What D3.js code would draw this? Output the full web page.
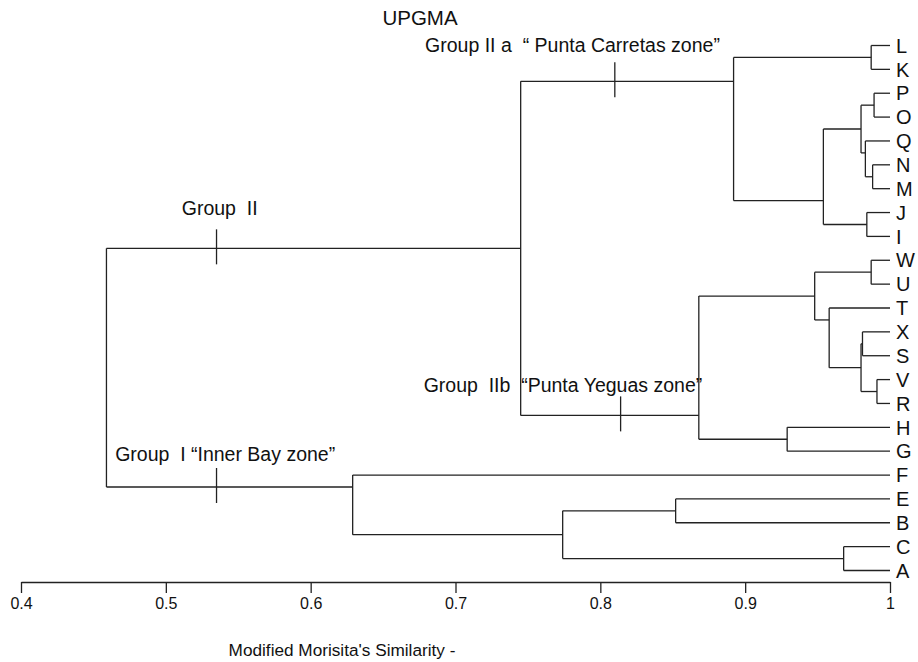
<!DOCTYPE html>
<html>
<head>
<meta charset="utf-8">
<script src="https://cdn.jsdelivr.net/npm/d3@7"></script>
<style>
  body { margin: 0; background: #fff; }
  text { font-family: "Liberation Sans", Arial, Helvetica, sans-serif; fill: #111; }
</style>
</head>
<body>
<div id="chart"></div>
<script>
// leaf order top to bottom
const leaves = ["L","K","P","O","Q","N","M","J","I","W","U","T","X","S","V","R","H","G","F","E","B","C","A"]

// merges: [node, child a, child b, similarity]
const merges = [
  ["n1", "L", "K", 0.987],
  ["n2", "P", "O", 0.989],
  ["n3", "N", "M", 0.988],
  ["n4", "Q", "n3", 0.983],
  ["n5", "n2", "n4", 0.980],
  ["n6", "J", "I", 0.984],
  ["n7", "n5", "n6", 0.954],
  ["gIIa", "n1", "n7", 0.892],
  ["n8", "W", "U", 0.987],
  ["n9", "X", "S", 0.981],
  ["n10", "V", "R", 0.991],
  ["n11", "n9", "n10", 0.980],
  ["n12", "T", "n11", 0.958],
  ["n13", "n8", "n12", 0.948],
  ["n14", "H", "G", 0.929],
  ["gIIb", "n13", "n14", 0.868],
  ["gII", "gIIa", "gIIb", 0.745],
  ["n15", "E", "B", 0.852],
  ["n16", "C", "A", 0.968],
  ["n17", "n15", "n16", 0.774],
  ["gI", "F", "n17", 0.629],
  ["root", "gII", "gI", 0.459]
]

const tickValues = [0.4, 0.5, 0.6, 0.7, 0.8, 0.9, 1]

// group annotations
const groupNodes = ["gIIa", "gII", "gIIb", "gI"]
const groupLabels = ["Group II a  \u201c Punta Carretas zone\u201d", "Group  II", "Group  IIb  \u201cPunta Yeguas zone\u201d", "Group  I \u201cInner Bay zone\u201d"]
const groupMarks = [0.810, 0.535, 0.814, 0.535]
const groupLabelStart = [0.679, 0.511, 0.678, 0.465]
const groupLabelRaise = [29, 33, 23, 26]

const width = 918, height = 662

const svg = d3.select("#chart")
              .append("svg")
              .attr("width", width)
              .attr("height", height)

const x = d3.scaleLinear().domain([0.4, 1]).range([21, 890])
const y = d3.scaleLinear().domain([0, leaves.length - 1]).range([45.5, 570.5])

// node info: leaf range, row position, similarity
const nodes = {}
leaves.forEach((l, i) => nodes[l] = {first: i, last: i, row: i, sim: 1})
merges.forEach(([id, a, b, sim]) => {
  const na = nodes[a], nb = nodes[b]
  nodes[id] = {first: na.first, last: nb.last, row: (na.last + nb.first) / 2, sim: sim}
})

const lines = svg.append("g")
                 .attr("fill", "none")
                 .attr("stroke", "#222")
                 .attr("stroke-width", 1.3)

merges.forEach(([id, a, b, sim]) => {
  lines.append("line")
       .attr("x1", x(sim)).attr("x2", x(sim))
       .attr("y1", y(nodes[a].row)).attr("y2", y(nodes[b].row))
  ;[a, b].forEach(c => {
    lines.append("line")
         .attr("x1", x(sim)).attr("x2", x(nodes[c].sim))
         .attr("y1", y(nodes[c].row)).attr("y2", y(nodes[c].row))
  })
})

// leaf labels
svg.append("g")
   .selectAll("text")
   .data(leaves)
   .enter()
   .append("text")
   .attr("x", x(1) + 6)
   .attr("y", (d, i) => y(i))
   .attr("dy", "0.36em")
   .attr("font-size", 20)
   .text(d => d)

// group marks and labels
groupNodes.forEach((g, i) => {
  const yy = y(nodes[g].row)
  lines.append("line")
       .attr("x1", x(groupMarks[i])).attr("x2", x(groupMarks[i]))
       .attr("y1", yy - 19).attr("y2", yy + 16)
  svg.append("text")
     .attr("x", x(groupLabelStart[i]))
     .attr("y", yy - groupLabelRaise[i])
     .attr("font-size", 19.5)
     .style("white-space", "pre")
     .text(groupLabels[i])
})

// axis
const axis = svg.append("g")
                .attr("transform", "translate(0,582)")
                .call(d3.axisBottom(x)
                        .tickValues(tickValues)
                        .tickFormat(d => d === 1 ? "1" : d3.format(".1f")(d))
                        .tickSize(11)
                        .tickSizeOuter(0)
                        .tickPadding(5))
axis.selectAll("path, line").attr("stroke", "#222").attr("stroke-width", 1.3)
axis.selectAll("text").attr("font-size", 16).attr("fill", "#111")
    .style("font-family", "'Liberation Sans', Arial, sans-serif")

svg.append("text")
   .attr("x", 420)
   .attr("y", 25)
   .attr("text-anchor", "middle")
   .attr("font-size", 20.5)
   .text("UPGMA")

svg.append("text")
   .attr("x", 342)
   .attr("y", 656)
   .attr("text-anchor", "middle")
   .attr("font-size", 17.2)
   .text("Modified Morisita's Similarity -")
</script>
</body>
</html>
